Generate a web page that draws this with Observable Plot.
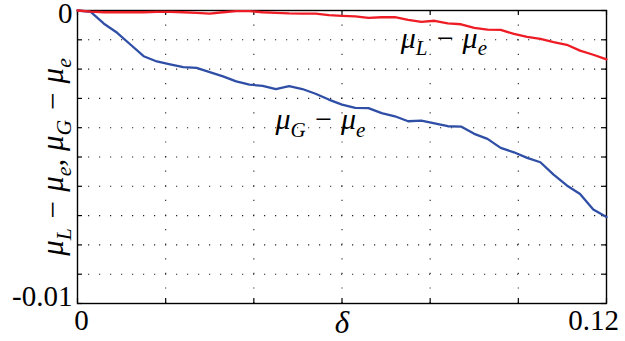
<!DOCTYPE html>
<html>
<head>
<meta charset="utf-8">
<script src="https://cdn.jsdelivr.net/npm/d3@7"></script>
<script src="https://cdn.jsdelivr.net/npm/@observablehq/plot@0.6"></script>
<style>
  body { margin: 0; background: white; }
  svg text { font-family: "Liberation Serif", "Times New Roman", serif; }
</style>
</head>
<body>
<div id="chart"></div>
<script>
// x values (delta)
const delta = [0, 0.003, 0.006, 0.009, 0.012, 0.015, 0.018, 0.021, 0.024, 0.027,
  0.030, 0.033, 0.036, 0.039, 0.042, 0.045, 0.048, 0.051, 0.054, 0.057,
  0.060, 0.063, 0.066, 0.069, 0.072, 0.075, 0.078, 0.081, 0.084, 0.087,
  0.090, 0.093, 0.096, 0.099, 0.102, 0.105, 0.108, 0.111, 0.114, 0.117, 0.120];

// mu_L - mu_e (red)
const muL = [0, -0.00004, -0.00006, -0.00006, -0.00006, -0.00006, -0.00005, -0.00005, -0.00006, -0.00008,
  -0.00011, -0.00006, -0.00002, -0.00002, -0.00006, -0.00008, -0.00010, -0.00011, -0.00011, -0.00016,
  -0.00018, -0.00020, -0.00025, -0.00023, -0.00023, -0.00032, -0.00039, -0.00035, -0.00044, -0.00047,
  -0.00059, -0.00065, -0.00066, -0.00080, -0.00090, -0.00097, -0.00108, -0.00117, -0.00137, -0.00151, -0.00167];

// mu_G - mu_e (blue)
const muG = [0, -0.00005, -0.00045, -0.00076, -0.00116, -0.00156, -0.00174, -0.00184, -0.00193, -0.00196,
  -0.00210, -0.00225, -0.00242, -0.00253, -0.00257, -0.00268, -0.00258, -0.00268, -0.00284, -0.00304,
  -0.00321, -0.00332, -0.00333, -0.00350, -0.00361, -0.00378, -0.00376, -0.00385, -0.00395, -0.00396,
  -0.00421, -0.00438, -0.00469, -0.00484, -0.00503, -0.00518, -0.00560, -0.00597, -0.00626, -0.00679, -0.00705];

const xTicks = [0, 0.02, 0.04, 0.06, 0.08, 0.10, 0.12];
const yTicks = [0, -0.001, -0.002, -0.003, -0.004, -0.005, -0.006, -0.007, -0.008, -0.009, -0.01];

const curveLabels = ["μ_L − μ_e", "μ_G − μ_e"];
const curveLabelX = [0.0733, 0.0449];
const curveLabelY = [-0.00094, -0.00373];

const yAxisLabel = "μ_L − μ_e, μ_G − μ_e";
const xAxisLabel = "δ";

const FONT = "Liberation Serif";
const W = 625, H = 341;
const mL = 77, mR = 19, mT = 10, mB = 38;
const pw = W - mL - mR, ph = H - mT - mB;

const redData = delta.map((d, i) => ({x: d, y: muL[i]}));
const blueData = delta.map((d, i) => ({x: d, y: muG[i]}));
const innerX = xTicks.slice(1, -1);
const innerY = yTicks.slice(1, -1);

const plot = Plot.plot({
  width: W, height: H,
  marginLeft: mL, marginRight: mR, marginTop: mT, marginBottom: mB,
  x: {domain: [0, 0.12], axis: null},
  y: {domain: [-0.01, 0], axis: null},
  style: {fontFamily: FONT, background: "white", color: "black"},
  marks: [
    Plot.ruleX(innerX, {x: d => d, stroke: "#222", strokeWidth: 1.1, strokeDasharray: "1.2,13.4"}),
    Plot.ruleY(innerY, {y: d => d, stroke: "#222", strokeWidth: 1.1, strokeDasharray: "1.2,9.8"}),
    Plot.tickX(xTicks, {x: d => d, insetTop: ph - 5, stroke: "black", strokeWidth: 1.2}),
    Plot.tickX(xTicks, {x: d => d, insetBottom: ph - 5, stroke: "black", strokeWidth: 1.2}),
    Plot.tickY(yTicks, {y: d => d, insetRight: pw - 5, stroke: "black", strokeWidth: 1.2}),
    Plot.tickY(yTicks, {y: d => d, insetLeft: pw - 5, stroke: "black", strokeWidth: 1.2}),
    Plot.frame({stroke: "black", strokeWidth: 1.4}),
    Plot.line(blueData, {x: "x", y: "y", stroke: "#2f4ea6", strokeWidth: 2.3}),
    Plot.line(redData, {x: "x", y: "y", stroke: "#ee1c25", strokeWidth: 2.3}),
    Plot.text(curveLabels, {x: (d, i) => curveLabelX[i], y: (d, i) => curveLabelY[i], text: d => d,
      textAnchor: "start", lineAnchor: "middle", fontFamily: FONT, fontSize: 30, fontStyle: "italic", fill: "black"}),
    // y tick labels
    Plot.text([yTicks[0]], {y: d => d, frameAnchor: "left", textAnchor: "end", lineAnchor: "middle", dx: -5, dy: 3,
      text: () => "0", fontFamily: FONT, fontSize: 29, fill: "black"}),
    Plot.text([yTicks[yTicks.length - 1]], {y: d => d, frameAnchor: "left", textAnchor: "end", lineAnchor: "middle", dx: -5, dy: -7,
      text: () => "-0.01", fontFamily: FONT, fontSize: 29, fill: "black"}),
    // x tick labels
    Plot.text([xTicks[0]], {x: d => d, frameAnchor: "bottom", textAnchor: "middle", lineAnchor: "top", dx: 4, dy: 6,
      text: () => "0", fontFamily: FONT, fontSize: 29, fill: "black"}),
    Plot.text([xTicks[xTicks.length - 1]], {x: d => d, frameAnchor: "bottom", textAnchor: "middle", lineAnchor: "top", dx: -13, dy: 6,
      text: () => "0.12", fontFamily: FONT, fontSize: 29, fill: "black"}),
    // x axis label
    Plot.text([xAxisLabel], {x: () => 0.06, frameAnchor: "bottom", textAnchor: "middle", lineAnchor: "top", dy: 7,
      text: d => d, fontFamily: FONT, fontSize: 31, fontStyle: "italic", fill: "black"}),
    // y axis label
    Plot.text([yAxisLabel], {frameAnchor: "left", textAnchor: "middle", lineAnchor: "middle", rotate: -90, dx: -24,
      text: d => d, fontFamily: FONT, fontSize: 31, fontStyle: "italic", fill: "black"})
  ]
});

document.getElementById("chart").appendChild(plot);

// convert "_X" into subscripts
d3.select(plot).selectAll("text").each(function() {
  const t = this.textContent;
  if (!t.includes("_")) return;
  const fs = parseFloat(getComputedStyle(this).fontSize) || 30;
  const shift = fs * 0.25;
  const parts = t.split(/(_[^\s,])/);
  const sel = d3.select(this);
  sel.text(null);
  let down = false;
  for (const p of parts) {
    if (!p) continue;
    if (p.startsWith("_")) {
      sel.append("tspan").attr("font-size", (fs * 0.7) + "px").attr("dy", shift + "px").text(p.slice(1));
      down = true;
    } else {
      const ts = sel.append("tspan").text(p);
      if (down) { ts.attr("dy", (-shift) + "px"); down = false; }
    }
  }
});
</script>
</body>
</html>
